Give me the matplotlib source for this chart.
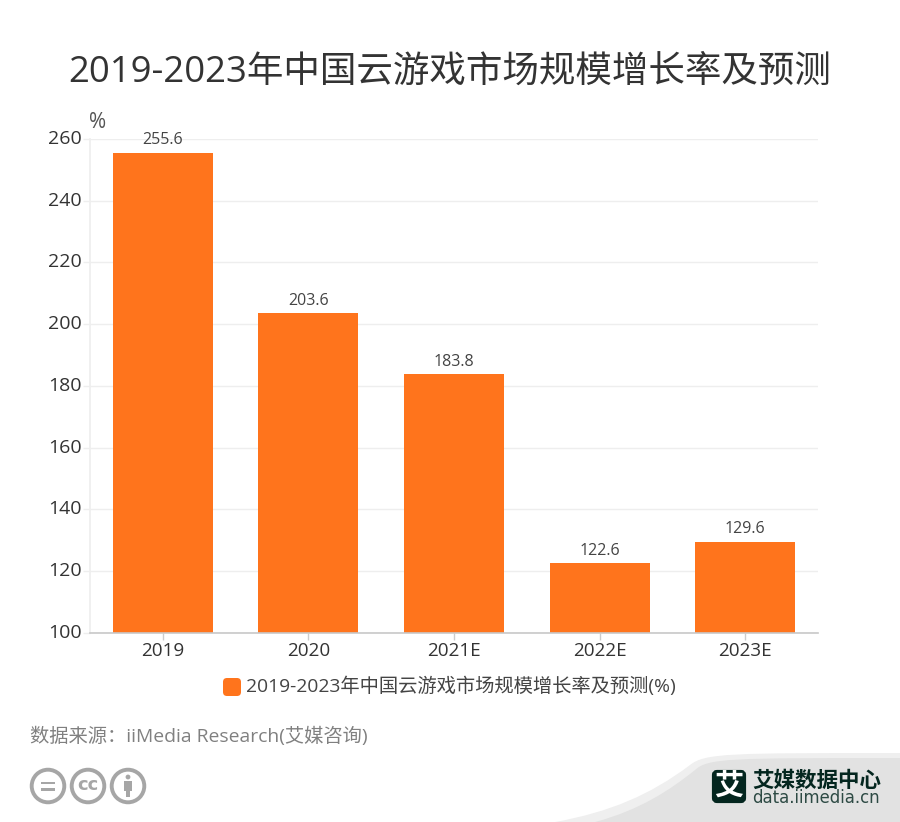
import matplotlib
matplotlib.use("Agg")
import matplotlib.pyplot as plt
from matplotlib.patches import Circle, FancyBboxPatch, PathPatch, Rectangle
from matplotlib.path import Path
from matplotlib.transforms import ScaledTranslation

plt.rcParams['font.family'] = ['Open Sans', 'Noto Sans CJK SC', 'DejaVu Sans']

years = ["2019", "2020", "2021E", "2022E", "2023E"]
growth = [255.6, 203.6, 183.8, 122.6, 129.6]
y_ticks = [100, 120, 140, 160, 180, 200, 220, 240, 260]
title = "2019-2023年中国云游戏市场规模增长率及预测"
legend_label = "2019-2023年中国云游戏市场规模增长率及预测(%)"
source = "数据来源：iiMedia Research(艾媒咨询)"

ORANGE = "#ff741c"
W, H = 900, 822

fig = plt.figure(figsize=(9, 8.22), dpi=100)

# pixel overlay for the footer decorations
bg = fig.add_axes([0, 0, 1, 1], zorder=0)
bg.set_xlim(0, W)
bg.set_ylim(H, 0)
bg.axis("off")

codes = [Path.MOVETO, Path.CURVE4, Path.CURVE4, Path.CURVE4, Path.CURVE4, Path.CURVE4,
         Path.LINETO, Path.LINETO, Path.CLOSEPOLY]
light = Path([(555, 822), (610, 812), (650, 795), (690, 765), (705, 753), (730, 753),
              (900, 753), (900, 822), (555, 822)], codes)
dark = Path([(595, 822), (640, 810), (670, 790), (695, 770), (708, 758), (730, 758),
             (900, 758), (900, 822), (595, 822)], codes)
bg.add_patch(PathPatch(light, fc="#efefef", ec="none"))
bg.add_patch(PathPatch(dark, fc="#e2e2e2", ec="none"))

# logo
bg.add_patch(FancyBboxPatch((714, 772), 30, 29, boxstyle="round,pad=0,rounding_size=3",
                            fc="#04261f", ec="#04261f", lw=3))
bg.text(729, 785.5, "艾", color="white", fontsize=21, fontweight="bold", ha="center", va="center",
        family="Noto Sans CJK SC")
bg.text(816.5, 780, "艾媒数据中心", color="#04261f", fontsize=15.5, fontweight="bold",
        ha="center", va="center", family="Noto Sans CJK SC")
bg.text(816, 798, "data.iimedia.cn", color="#2d4a44", fontsize=11.9, ha="center", va="center",
        family="DejaVu Sans")

# cc icons
for cx in [48, 88, 128]:
    bg.add_patch(Circle((cx, 786), 16.3, fc="white", ec="#a6a6a6", lw=2.8))
bg.add_patch(Rectangle((41, 781.5), 14, 2.8, fc="#a6a6a6", ec="none"))
bg.add_patch(Rectangle((41, 788), 14, 2.8, fc="#a6a6a6", ec="none"))
bg.text(88, 784.5, "cc", color="#a6a6a6", fontsize=13, fontweight="bold", ha="center", va="center",
        family="DejaVu Sans")
bg.add_patch(Circle((128, 777), 2.4, fc="#a6a6a6", ec="none"))
bg.add_patch(Rectangle((124, 781), 8, 10, fc="#a6a6a6", ec="none"))
bg.add_patch(Rectangle((126, 790), 4, 7, fc="#a6a6a6", ec="none"))

# main chart, 90..818 px wide, value 260 at y=139 and 100 at y=633
ax = fig.add_axes([90 / W, 1 - 633 / H, 728 / W, 494 / H], zorder=1)
ax.patch.set_alpha(0)
positions = range(len(years))
bars = ax.bar(positions, growth, width=0.687, color=ORANGE, zorder=3)
ax.set_xlim(-0.5, 4.5)
ax.set_ylim(100, 260)
ax.set_yticks(y_ticks)
ax.set_xticks(list(positions))
ax.set_xticklabels(years)
ax.tick_params(axis="x", labelsize=13.6, colors="#333333", length=5, width=1, color="#cccccc", pad=1.5)
ax.tick_params(axis="y", labelsize=14, colors="#333333", length=5, width=1, color="#eeeeee", pad=1)
ax.grid(axis="y", color="#eeeeee", lw=1, zorder=0)
for side in ["top", "right"]:
    ax.spines[side].set_visible(False)
ax.spines["left"].set_color("#eeeeee")
ax.spines["left"].set_linewidth(1.2)
ax.spines["bottom"].set_color("#c8c8c8")
ax.spines["bottom"].set_linewidth(1.2)
ax.spines["bottom"].set_zorder(4)

# y labels sit a little above their gridlines in the reference
nudge = ScaledTranslation(0, 2 / 100, fig.dpi_scale_trans)
for lab in ax.get_yticklabels():
    lab.set_transform(lab.get_transform() + nudge)

for x, v in zip(positions, growth):
    ax.annotate(f"{v:.1f}", (x, v), xytext=(0, 3), textcoords="offset points",
                ha="center", va="bottom", fontsize=11.5, color="#444444", zorder=5)

# texts placed in pixels
fig.text(450 / W, 1 - 73 / H, title, fontsize=26.3, color="#333333", ha="center", va="center")
fig.text(98 / W, 1 - 122 / H, "%", fontsize=15, color="#555555", ha="center", va="center")
fig.text(246 / W, 1 - 686 / H, legend_label, fontsize=13.9, color="#444444", ha="left", va="center")
bg.add_patch(FancyBboxPatch((223, 678), 18, 18, boxstyle="round,pad=0,rounding_size=4",
                            fc=ORANGE, ec="none"))
fig.text(30 / W, 1 - 736 / H, source, fontsize=13.9, color="#808080", ha="left", va="center")

fig.savefig("out.png", dpi=100)
